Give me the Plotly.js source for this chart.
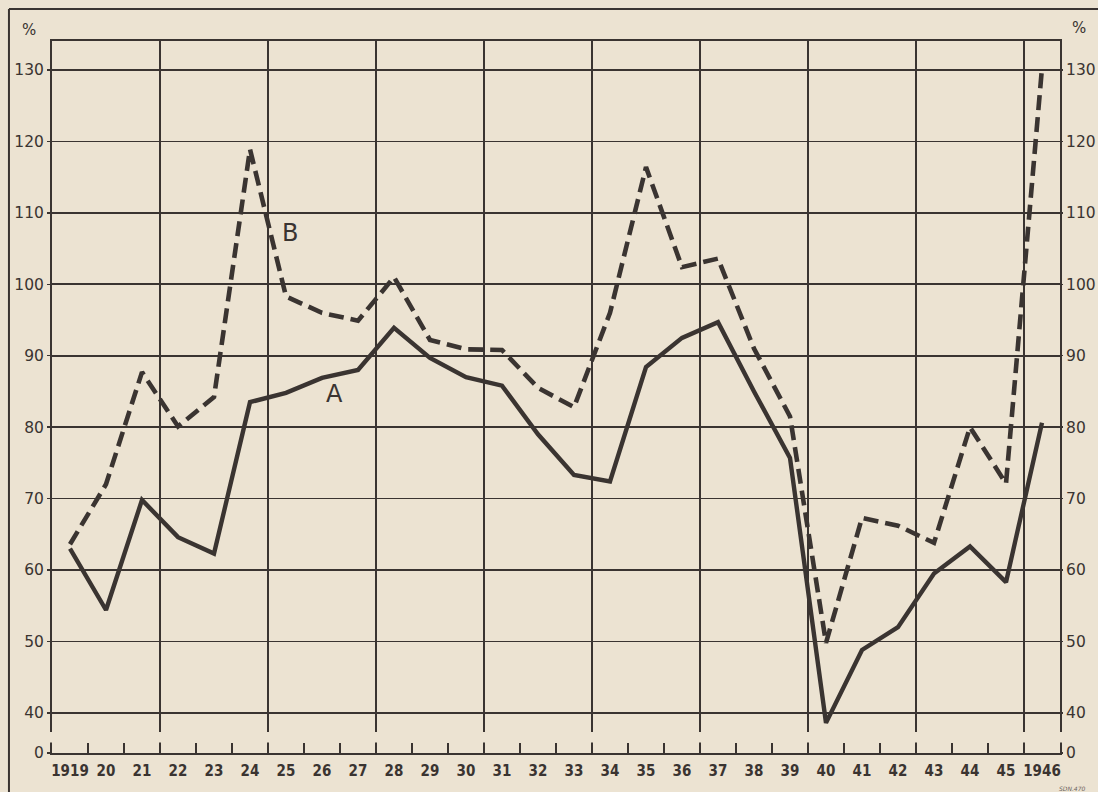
<!DOCTYPE html>
<html>
<head>
<meta charset="utf-8">
<script src="https://cdn.plot.ly/plotly-3.0.1.min.js"></script>
<style>
  html, body { margin: 0; padding: 0; background: #ece3d2; }
  #chart { width: 1098px; height: 792px; }
</style>
</head>
<body>
<div id="chart"></div>
<script>
// ---- data ----
const years = [1919, 1920, 1921, 1922, 1923, 1924, 1925, 1926, 1927, 1928,
               1929, 1930, 1931, 1932, 1933, 1934, 1935, 1936, 1937, 1938,
               1939, 1940, 1941, 1942, 1943, 1944, 1945, 1946];
const yearLabels = ["1919", "20", "21", "22", "23", "24", "25", "26", "27", "28",
                    "29", "30", "31", "32", "33", "34", "35", "36", "37", "38",
                    "39", "40", "41", "42", "43", "44", "45", "1946"];
const seriesA = [63.0, 54.4, 69.8, 64.6, 62.3, 83.5, 84.8, 86.9, 88.0, 93.9,
                 89.7, 87.0, 85.8, 79.0, 73.3, 72.4, 88.4, 92.5, 94.7, 85.0,
                 75.7, 38.6, 48.8, 52.0, 59.5, 63.3, 58.3, 80.6];
const seriesB = [63.6, 72.0, 87.7, 80.1, 84.2, 118.9, 98.3, 96.0, 94.9, 101.0,
                 92.2, 90.9, 90.8, 85.5, 82.8, 96.0, 116.4, 102.4, 103.6, 91.0,
                 81.5, 49.8, 67.3, 66.2, 63.8, 80.0, 72.1, 130.3];
// broken axis: the "0" sits just under the 40 line
const yTickVals = [34.4, 40, 50, 60, 70, 80, 90, 100, 110, 120, 130];
const yTickText = ["0", "40", "50", "60", "70", "80", "90", "100", "110", "120", "130"];

const ink = "#3a3431";
const paper = "#ece3d2";

const traces = [
  { x: years, y: seriesA, type: "scatter", mode: "lines", name: "A",
    line: { color: ink, width: 4.4 }, hoverinfo: "skip" },
  { x: years, y: seriesB, type: "scatter", mode: "lines", name: "B",
    line: { color: ink, width: 4.6, dash: "15px,7px" }, hoverinfo: "skip" },
  { x: [], y: [], xaxis: "x2", yaxis: "y2", type: "scatter", showlegend: false }
];

const yLabelFont = { family: "DejaVu Sans, Noto Sans, sans-serif", size: 15.5, color: ink };

const layout = {
  width: 1098, height: 792,
  margin: { l: 52, r: 38, t: 41, b: 39, pad: 0 },
  paper_bgcolor: paper, plot_bgcolor: paper,
  showlegend: false,
  xaxis: {
    range: [1918.5, 1946.5], tickmode: "array", tickvals: years, ticktext: yearLabels,
    ticks: "", showgrid: false, zeroline: false,
    showline: true, mirror: true, linecolor: ink, linewidth: 2,
    tickfont: { family: "DejaVu Sans Condensed, Liberation Sans Narrow, sans-serif", size: 15, weight: "bold", color: ink },
    ticklabelstandoff: 3
  },
  xaxis2: {
    overlaying: "x", anchor: "y", side: "bottom",
    range: [1918.5, 1946.5], tickmode: "linear", tick0: 1918.5, dtick: 3,
    showgrid: true, gridcolor: ink, gridwidth: 1.6,
    ticks: "inside", ticklen: 10, tickwidth: 1.6, tickcolor: ink,
    minor: { tick0: 1918.5, dtick: 1, ticks: "inside", ticklen: 10, tickwidth: 1.6, tickcolor: ink, showgrid: false },
    showticklabels: false, showline: false, zeroline: false
  },
  yaxis: {
    range: [34.38, 134.06], tickmode: "array", tickvals: yTickVals, ticktext: yTickText,
    showgrid: true, gridcolor: ink, gridwidth: 1.8, zeroline: false,
    showline: true, mirror: true, linecolor: ink, linewidth: 2,
    ticks: "outside", ticklen: 3, tickcolor: ink, tickwidth: 1.5,
    tickfont: yLabelFont
  },
  yaxis2: {
    overlaying: "y", anchor: "x", side: "right",
    range: [34.38, 134.06], tickmode: "array", tickvals: yTickVals, ticktext: yTickText,
    showgrid: false, zeroline: false, showline: false,
    ticks: "outside", ticklen: 2, tickcolor: ink, tickwidth: 1.5,
    tickfont: yLabelFont
  },
  shapes: [
    // axis break gap between the 40 line region and the 0 baseline
    { type: "rect", xref: "paper", yref: "paper", x0: -0.004, x1: 1.004, y0: 0.0148, y1: 0.0295,
      fillcolor: paper, line: { width: 0 }, layer: "above" },
    // outer printed border (top and left)
    { type: "line", xref: "paper", yref: "paper", x0: -0.0427, x1: 1.04, y0: 1.0449, y1: 1.0449,
      line: { color: ink, width: 2 } },
    { type: "line", xref: "paper", yref: "paper", x0: -0.0427, x1: -0.0427, y0: 1.0449, y1: -0.06,
      line: { color: ink, width: 2 } }
  ],
  annotations: [
    { text: "A", x: 1926.35, y: 84.6, xref: "x", yref: "y", showarrow: false,
      xanchor: "center", yanchor: "middle",
      font: { family: "DejaVu Sans, sans-serif", size: 24, color: ink } },
    { text: "B", x: 1925.1, y: 107.2, xref: "x", yref: "y", showarrow: false,
      xanchor: "center", yanchor: "middle",
      font: { family: "DejaVu Sans, sans-serif", size: 24, color: ink } },
    { text: "%", x: -0.0228, y: 1.0154, xref: "paper", yref: "paper", showarrow: false,
      xanchor: "center", yanchor: "middle",
      font: { family: "DejaVu Sans, sans-serif", size: 15, color: ink } },
    { text: "%", x: 1.0188, y: 1.018, xref: "paper", yref: "paper", showarrow: false,
      xanchor: "center", yanchor: "middle",
      font: { family: "DejaVu Sans, sans-serif", size: 15, color: ink } },
    { text: "<i>SDN.470</i>", x: 1.0117, y: -0.0492, xref: "paper", yref: "paper", showarrow: false,
      xanchor: "center", yanchor: "middle",
      font: { family: "DejaVu Sans, sans-serif", size: 6, color: "#6a625c" } }
  ]
};

Plotly.newPlot("chart", traces, layout, { staticPlot: true, displayModeBar: false });
</script>
</body>
</html>
